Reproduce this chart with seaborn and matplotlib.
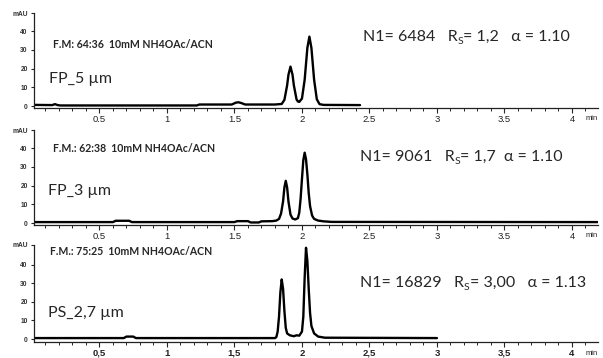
import matplotlib
matplotlib.use("Agg")
import matplotlib.pyplot as plt
import seaborn as sns
from matplotlib.ticker import MultipleLocator, FixedLocator

# --- chromatogram traces (time in min, signal in mAU) ---
fp5_time = [0.02, 0.15, 0.17, 0.19, 0.21, 1.22, 1.24, 1.48, 1.51, 1.53, 1.55, 1.58, 1.80,
            1.85, 1.87, 1.89, 1.90, 1.915, 1.93, 1.94, 1.96, 1.97, 1.98, 2.00, 2.02, 2.04,
            2.055, 2.07, 2.09, 2.11, 2.13, 2.16, 2.43]
fp5_mau = [0.6, 0.5, 1.0, 0.5, 0.3, 0.3, 0.8, 0.8, 1.8, 2.0, 1.6, 0.8, 0.8,
           1.1, 3.3, 11.0, 16.7, 21.0, 16.7, 11.0, 3.5, 2.4, 2.2, 4.0, 14.0, 31.0,
           37.0, 31.0, 14.0, 3.6, 1.0, 0.6, 0.5]

fp3_time = [0.02, 0.60, 0.62, 0.72, 0.74, 1.50, 1.52, 1.60, 1.62, 1.68, 1.70, 1.78, 1.81,
            1.83, 1.845, 1.86, 1.87, 1.88, 1.89, 1.90, 1.915, 1.93, 1.95, 1.97, 1.98, 1.99,
            2.00, 2.01, 2.02, 2.03, 2.04, 2.05, 2.06, 2.075, 2.09, 2.12, 2.16, 2.22, 4.19]
fp3_mau = [0.5, 0.5, 1.2, 1.2, 0.5, 0.5, 1.0, 1.0, 0.3, 0.3, 0.9, 1.0, 1.3,
           2.2, 5.0, 11.5, 19.0, 22.5, 19.0, 11.5, 4.5, 2.4, 1.9, 2.6, 5.5, 13.0,
           23.5, 33.5, 37.5, 34.0, 26.0, 16.0, 9.0, 4.0, 2.2, 1.3, 0.9, 0.6, 0.5]

ps27_time = [0.02, 0.68, 0.70, 0.75, 0.77, 1.80, 1.81, 1.82, 1.83, 1.84, 1.85, 1.86, 1.87,
             1.88, 1.89, 1.91, 1.94, 1.96, 1.98, 2.00, 2.01, 2.02, 2.03, 2.04, 2.05, 2.06,
             2.07, 2.09, 2.12, 2.17, 3.00]
ps27_mau = [0.5, 0.5, 1.3, 1.3, 0.5, 0.5, 1.0, 4.0, 12.0, 25.0, 32.0, 27.0, 15.0,
            6.0, 3.0, 2.0, 1.5, 2.0, 1.8, 4.0, 12.0, 33.0, 49.0, 42.0, 27.0, 14.0,
            7.0, 3.0, 1.3, 0.7, 0.5]

columns = ["FP_5 µm", "FP_3 µm", "PS_2,7 µm"]
mobile_phase = ["F.M: 64:36  10mM NH4OAc/ACN",
                "F.M.: 62:38  10mM NH4OAc/ACN",
                "F.M.: 75:25  10mM NH4OAc/ACN"]
plates = ["N1= 6484   R", "N1= 9061   R", "N1= 16829   R"]
rest = ["= 1,2   α = 1.10", "= 1,7  α = 1.10", "= 3,00   α = 1.13"]
x_ticks = [0.5, 1, 1.5, 2, 2.5, 3, 3.5, 4]
x_labels_dot = ["0.5", "1", "1.5", "2", "2.5", "3", "3.5", "4"]
x_labels_comma = ["0,5", "1", "1,5", "2", "2,5", "3", "3,5", "4"]
y_ticks = [0, 10, 20, 30, 40]

sns.set_style("ticks")
plt.rcParams["font.family"] = ["Liberation Sans", "DejaVu Sans"]
label_font = ["Lato", "DejaVu Sans"]

fig = plt.figure(figsize=(6.03, 3.58), dpi=100)


def add_px_axes(left, top, right, bottom):
    return fig.add_axes([left / 603, 1 - bottom / 358, (right - left) / 603, (bottom - top) / 358])


panels = [
    dict(ax=add_px_axes(34, 13.2, 597.6, 107.9), t=fp5_time, y=fp5_mau, ylim=(-1, 49.5),
         fm=(0.156, 33), col=(0.126, 14.4), n1=(2.45, 36.8), xl=x_labels_dot, bold=False),
    dict(ax=add_px_axes(34, 130.2, 597.6, 224.9), t=fp3_time, y=fp3_mau, ylim=(-1, 49.5),
         fm=(0.156, 40), col=(0.12, 17), n1=(2.43, 35.2), xl=x_labels_dot, bold=False),
    dict(ax=add_px_axes(34, 245, 597.6, 341.8), t=ps27_time, y=ps27_mau, ylim=(-1.5, 50.5),
         fm=(0.133, 46.8), col=(0.12, 14), n1=(2.43, 30), xl=x_labels_comma, bold=True),
]

for i, p in enumerate(panels):
    ax = p["ax"]
    sns.lineplot(x=p["t"], y=p["y"], ax=ax, color="black", linewidth=1.7, estimator=None)
    ax.set_xlim(0.015, 4.19)
    ax.set_ylim(*p["ylim"])
    for s in ["top", "right"]:
        ax.spines[s].set_visible(False)
    for s in ["left", "bottom"]:
        ax.spines[s].set_linewidth(0.9)
        ax.spines[s].set_color("#222222")

    top = p["ylim"][1]
    ax.yaxis.set_major_locator(FixedLocator(y_ticks + [top]))
    ax.set_yticklabels([str(v) for v in y_ticks] + ["mAU"], fontsize=4.8,
                       fontweight="bold", color="#333333")
    ax.xaxis.set_major_locator(FixedLocator(x_ticks))
    ax.set_xticklabels(p["xl"], fontsize=6.8,
                       fontweight="bold" if p["bold"] else "normal", color="#222222")
    ax.xaxis.set_minor_locator(MultipleLocator(0.1))
    ax.tick_params(axis="x", which="major", length=3.5, width=0.8, pad=1.5)
    ax.tick_params(axis="x", which="minor", length=2, width=0.7)
    ax.tick_params(axis="y", which="major", length=2.5, width=0.8, pad=2)
    ax.text(1.0, -0.08, "min", transform=ax.transAxes, ha="right", va="top",
            fontsize=5.5, color="#222222")

    ax.text(*p["fm"], mobile_phase[i], fontsize=7.6, fontweight="bold",
            family=label_font, va="center", ha="left")
    ax.text(*p["col"], columns[i], fontsize=11.5, family=label_font,
            va="center", ha="left")
    t1 = ax.text(*p["n1"], plates[i], fontsize=11.5, family=label_font,
                 va="center", ha="left")
    t2 = ax.annotate("S", xy=(1, 0.2), xycoords=t1, fontsize=7.5,
                     family=label_font, va="center", ha="left")
    ax.annotate(rest[i], xy=(1, 0.5), xycoords=(t2, t1), fontsize=11.5,
                family=label_font, va="center", ha="left")

fig.savefig("out.png", dpi=100)
